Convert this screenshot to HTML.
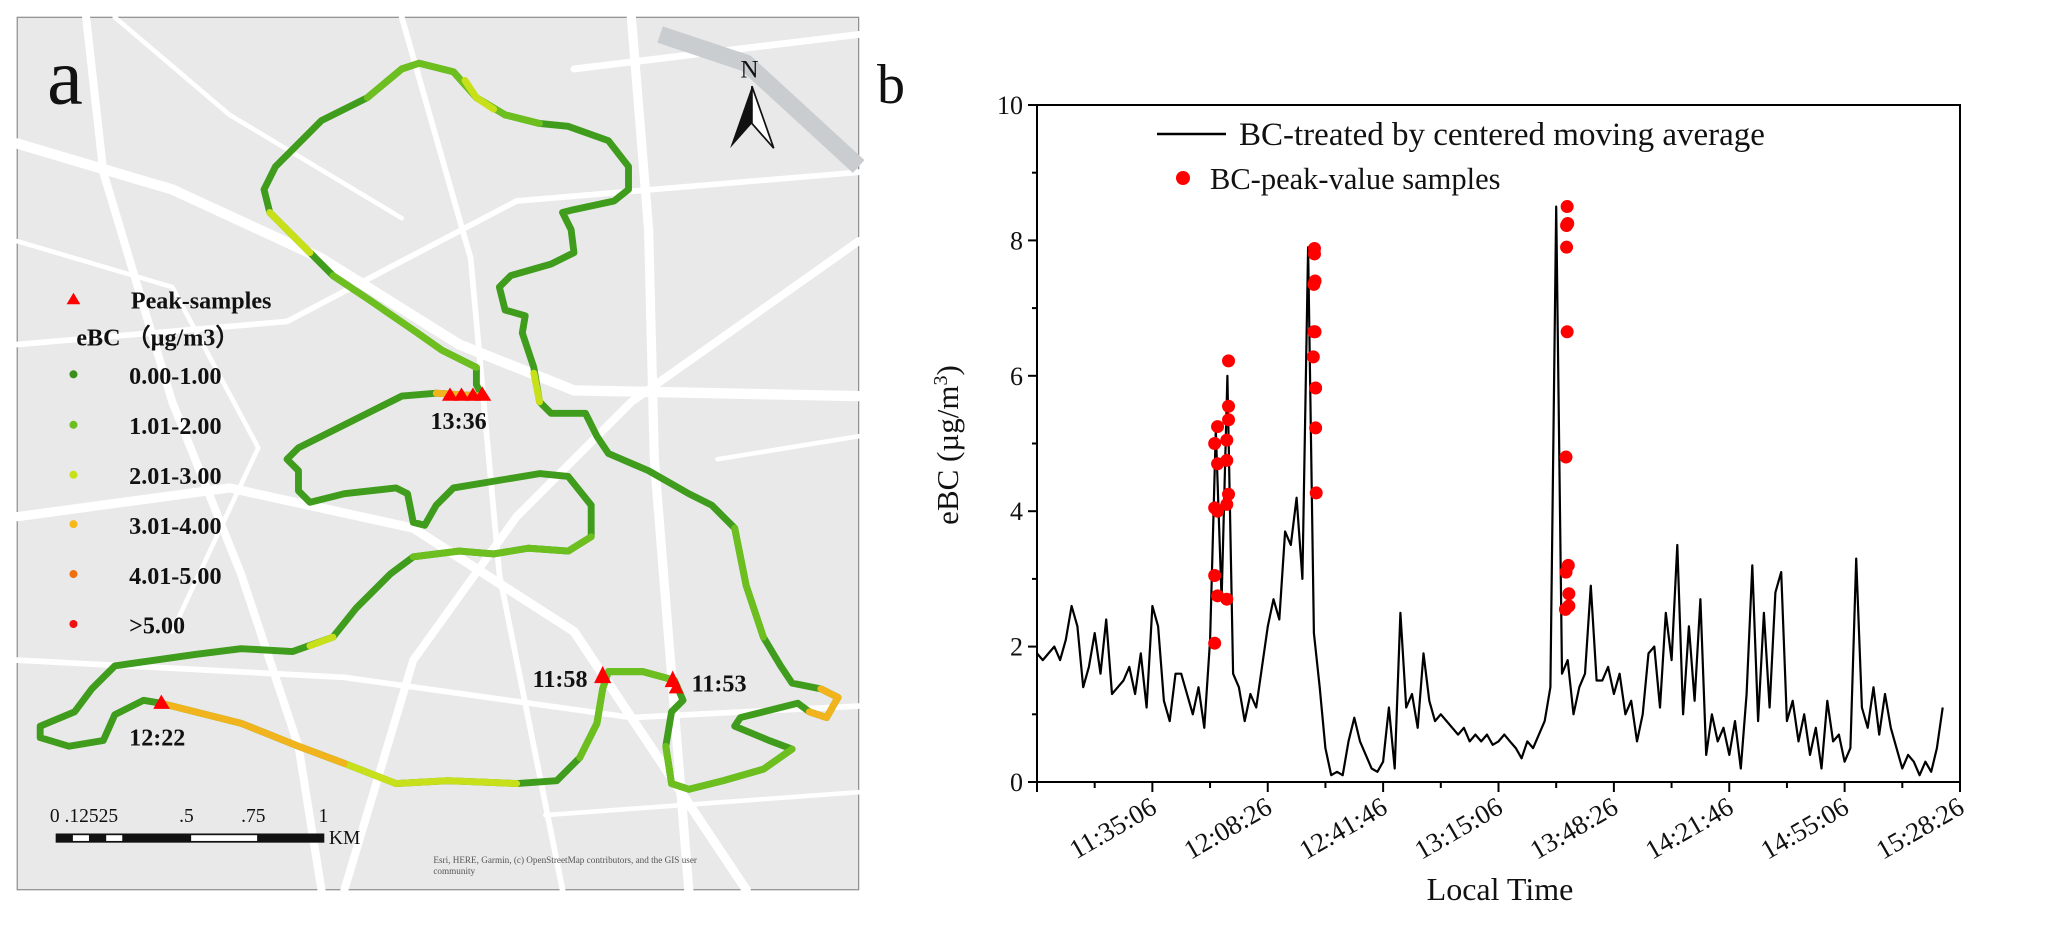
<!DOCTYPE html>
<html><head><meta charset="utf-8"><style>
html,body{margin:0;padding:0;background:#fff;}
#root{position:relative;width:2067px;height:934px;overflow:hidden;background:#fff;}
svg text{font-family:"Liberation Serif",serif;}
</style></head><body>
<div id="root">
<svg id="map" style="position:absolute;left:0;top:0" width="900" height="934" viewBox="0 0 1568 1627">
  <rect x="30" y="30" width="1466" height="1520" fill="#e9e9e9" stroke="#888" stroke-width="2"/>
  <g stroke="#fff" fill="none" stroke-linecap="round">
    <path d="M30 250 L300 330 L560 450 L800 600 L1000 680 L1496 690" stroke-width="18"/>
    <path d="M150 30 L180 300 L300 700 L420 1000 L520 1300 L560 1550" stroke-width="14"/>
    <path d="M30 900 L400 850 L720 920 L1000 1100 L1300 1550" stroke-width="16"/>
    <path d="M600 1550 L720 1150 L900 900 L1100 700 L1496 420" stroke-width="14"/>
    <path d="M1100 30 L1130 400 L1140 800 L1200 1550" stroke-width="16"/>
    <path d="M700 30 L820 450 L870 1000 L980 1550" stroke-width="10"/>
    <path d="M30 600 L500 560 L900 350 L1496 300" stroke-width="10"/>
    <path d="M30 1150 L600 1180 L1100 1250 L1496 1230" stroke-width="10"/>
    <path d="M200 30 L400 200 L700 380" stroke-width="8"/>
    <path d="M1000 120 L1496 60" stroke-width="12"/>
    <path d="M30 420 L300 500 L450 780 L300 1100" stroke-width="8"/>
    <path d="M1250 800 L1496 760" stroke-width="8"/>
    <path d="M950 1420 L1496 1380" stroke-width="8"/>
  </g>
  <path d="M1150 60 L1300 110 L1496 290" stroke="#c9cdd0" stroke-width="30" fill="none"/>
  <g fill="none" stroke-linecap="round" stroke-linejoin="round" stroke-width="12">
    <polyline stroke="#3f9c1c" points="840,690 830,670 830,640 770,610 720,575 640,520 580,480 540,440 500,400 470,370 460,330 480,290 560,210 640,170 700,120 730,110 790,125 830,170 880,200 940,215 990,220 1060,245 1095,290 1095,330 1070,350 1000,365 980,370 995,400 1000,440 960,460 890,480 870,500 880,540 915,550 910,580 930,640 940,700 960,720 1020,720 1040,760 1060,790 1130,820 1200,860 1240,880 1280,920 1300,1020 1330,1110 1360,1160 1380,1190 1430,1200 1460,1215 1440,1250 1410,1240 1390,1225 1370,1230 1330,1240 1290,1250 1280,1265 1340,1290 1380,1305 1330,1340 1260,1360 1200,1375 1170,1365 1160,1300 1170,1240 1190,1220 1175,1185 1120,1170 1060,1170 1050,1200 1040,1260 1010,1320 970,1360 900,1365 780,1360 690,1365 600,1330 520,1300 420,1260 320,1235 280,1225 250,1220 200,1245 180,1290 120,1300 70,1285 70,1265 130,1240 160,1200 200,1160 340,1140 420,1130 510,1135 580,1110 620,1060 680,1000 720,970 800,960 860,965 920,955 990,960 1030,935 1030,880 990,830 940,825 790,850 760,880 740,915 720,910 710,860 690,850 600,860 540,875 520,855 520,820 500,800 520,780 600,740 660,710 700,690 760,685 840,690"/>
    <polyline stroke="#6cbf1e" points="830,640 770,610 720,575 640,520 580,480"/>
    <polyline stroke="#6cbf1e" points="640,170 700,120 730,110 790,125 830,170 880,200 940,215"/>
    <polyline stroke="#c8e01a" points="540,440 500,400 470,370"/>
    <polyline stroke="#c8e01a" points="810,140 830,170 860,190"/>
    <polyline stroke="#6cbf1e" points="1280,920 1300,1020 1330,1110"/>
    <polyline stroke="#6cbf1e" points="1380,1305 1330,1340 1260,1360 1200,1375 1170,1365 1160,1300"/>
    <polyline stroke="#6cbf1e" points="1175,1185 1120,1170 1060,1170 1050,1200 1040,1260 1010,1320"/>
    <polyline stroke="#f2b41c" points="1430,1200 1460,1215 1440,1250 1410,1240"/>
    <polyline stroke="#c8e01a" points="900,1365 780,1360 690,1365 600,1330"/>
    <polyline stroke="#f2b41c" points="600,1330 520,1300 420,1260 320,1235 280,1225"/>
    <polyline stroke="#6cbf1e" points="720,970 800,960 860,965 920,955 990,960 1030,935"/>
    <polyline stroke="#c8e01a" points="540,1125 580,1110"/>
    <polyline stroke="#f2b41c" points="760,685 840,690"/>
    <polyline stroke="#c8e01a" points="930,650 940,700"/>
  </g>
  <g fill="#f00">
    <polygon points="770,698 784,675 798,698"/><polygon points="790,698 804,675 818,698"/><polygon points="810,698 824,675 838,698"/><polygon points="826,698 840,673 856,698"/>
    <polygon points="1035,1190 1050,1160 1065,1190"/><polygon points="1158,1197 1172,1168 1186,1197"/><polygon points="1165,1208 1178,1185 1191,1208"/>
    <polygon points="267,1235 281,1210 296,1235"/>
  </g>
  <g font-weight="bold" font-size="42" fill="#111">
    <text x="750" y="747">13:36</text><text x="928" y="1197">11:58</text><text x="1205" y="1205">11:53</text><text x="225" y="1299">12:22</text>
  </g>
  <text x="82" y="180" font-size="140" fill="#111">a</text>
  <g>
    <text x="1290" y="135" font-size="44" font-family="Liberation Sans" fill="#111">N</text>
    <polygon points="1310,150 1272,258 1310,215" fill="#111"/><polygon points="1310,150 1348,258 1310,215" fill="#fff" stroke="#111" stroke-width="3"/>
  </g>
  <g font-weight="bold" font-size="42" fill="#111">
    <polygon points="116,530 128,510 140,530" fill="#f00"/><text x="228" y="537">Peak-samples</text>
    <text x="133" y="602">eBC （µg/m3）</text>
    <circle cx="128" cy="652" r="7" fill="#3a8f1a"/><text x="225" y="669">0.00-1.00</text>
    <circle cx="128" cy="740" r="7" fill="#6cbf1e"/><text x="225" y="756">1.01-2.00</text>
    <circle cx="128" cy="827" r="7" fill="#c8e01a"/><text x="225" y="843">2.01-3.00</text>
    <circle cx="128" cy="913" r="7" fill="#f8b81a"/><text x="225" y="930">3.01-4.00</text>
    <circle cx="128" cy="1000" r="7" fill="#f07010"/><text x="225" y="1017">4.01-5.00</text>
    <circle cx="128" cy="1087" r="7" fill="#f01010"/><text x="225" y="1104">&gt;5.00</text>
  </g>
  <g font-family="Liberation Sans" font-size="34" fill="#111">
    <text x="87" y="1432">0 .12525</text><text x="312" y="1432">.5</text><text x="420" y="1432">.75</text><text x="555" y="1432">1</text>
    <rect x="97" y="1452" width="468" height="16" fill="#111"/>
    <rect x="127" y="1455" width="28" height="10" fill="#fff"/><rect x="185" y="1455" width="28" height="10" fill="#fff"/><rect x="333" y="1455" width="115" height="10" fill="#fff"/>
    <text x="573" y="1470">KM</text>
  </g>
  <text x="755" y="1503" font-family="Liberation Mono" font-size="16" fill="#555">Esri, HERE, Garmin, (c) OpenStreetMap contributors, and the GIS user</text>
  <text x="755" y="1523" font-family="Liberation Mono" font-size="16" fill="#555">community</text>
</svg>
<svg id="chart" style="position:absolute;left:0;top:0" width="2067" height="934"></svg>
</div>
<script>
const yTicks = [0, 2, 4, 6, 8, 10];
const xTickLabels = ["11:35:06","12:08:26","12:41:46","13:15:06","13:48:26","14:21:46","14:55:06","15:28:26"];
const stepSeconds = 100;
const bcValues = [1.9,1.8,1.9,2.0,1.8,2.1,2.6,2.3,1.4,1.7,2.2,1.6,2.4,1.3,1.4,1.5,1.7,1.3,1.9,1.1,2.6,2.3,1.2,0.9,1.6,1.6,1.3,1.0,1.4,0.8,2.1,5.2,2.7,6.0,1.6,1.4,0.9,1.3,1.1,1.7,2.3,2.7,2.4,3.7,3.5,4.2,3.0,7.9,2.2,1.4,0.5,0.1,0.15,0.1,0.6,0.95,0.6,0.4,0.2,0.15,0.3,1.1,0.2,2.5,1.1,1.3,0.8,1.9,1.2,0.9,1.0,0.9,0.8,0.7,0.8,0.6,0.7,0.6,0.7,0.55,0.6,0.7,0.6,0.5,0.35,0.6,0.5,0.7,0.9,1.4,8.5,1.6,1.8,1.0,1.4,1.6,2.9,1.5,1.5,1.7,1.3,1.6,1.0,1.2,0.6,1.0,1.9,2.0,1.1,2.5,1.8,3.5,1.0,2.3,1.2,2.7,0.4,1.0,0.6,0.8,0.4,0.9,0.2,1.3,3.2,0.9,2.5,1.1,2.8,3.1,0.9,1.2,0.6,1.0,0.4,0.8,0.2,1.2,0.6,0.7,0.3,0.5,3.3,1.1,0.8,1.4,0.7,1.3,0.8,0.5,0.2,0.4,0.3,0.1,0.3,0.15,0.5,1.1];
const peakTimes = [3080,3080,3080,3080,3130,3130,3130,3130,3290,3290,3290,3290,3320,3320,3320,3320, 4790,4800,4800,4810,4810,4820,4820,4830,4830,4840, 9160,9170,9170,9180,9180,9190,9200,9190,9210,9220,9220];
const peakValues = [2.05,3.05,4.05,5.0,5.25,4.7,2.75,4.0,2.7,4.1,5.05,4.75,5.55,5.35,6.22,4.25, 6.28,6.65,7.35,7.8,7.88,7.4,6.65,5.82,5.23,4.27, 2.55,3.1,4.8,7.9,8.22,8.5,8.25,6.65,3.2,2.78,2.6];

const NS='http://www.w3.org/2000/svg';
const svg=document.getElementById('chart');
const X0=1037,X1=1960,Y0=782,Y1=105,TMAX=16000,VMAX=10;
const xs=t=>X0+(t/TMAX)*(X1-X0);
const ys=v=>Y0-(v/VMAX)*(Y0-Y1);
function mk(tag,attrs,parent){const e=document.createElementNS(NS,tag);for(const k in attrs)e.setAttribute(k,attrs[k]);(parent||svg).appendChild(e);return e;}

const frame=mk('rect',{x:X0,y:Y1,width:X1-X0,height:Y0-Y1,fill:'none',stroke:'#000','stroke-width':2});



yTicks.forEach(v=>{
  const tk=mk('line',{x1:X0-9,x2:X0,y1:ys(v),y2:ys(v),stroke:'#000','stroke-width':2});
  
  
  const lb=mk('text',{x:X0-14,y:ys(v)+9,'text-anchor':'end','font-size':26,fill:'#111'});
  lb.textContent=v;
  
  
});
for(let v=1;v<VMAX;v+=2){
  const m=mk('line',{x1:X0-5,x2:X0,y1:ys(v),y2:ys(v),stroke:'#000','stroke-width':2});
  
  
}
for(let t=0;t<=TMAX;t+=1000){
  const major=t%2000===0;
  const tk=mk('line',{x1:xs(t),x2:xs(t),y1:Y0,y2:Y0+(major?10:6),stroke:'#000','stroke-width':2});
  
  
}
xTickLabels.forEach((s,i)=>{
  const x=xs((i+1)*2000);
  const lb=mk('text',{x:x+6,y:Y0+30,'text-anchor':'end','font-size':27,fill:'#111',transform:`rotate(-30 ${x+6} ${Y0+30})`});
  lb.textContent=s;
  
  
});

const pts=bcValues.map((v,i)=>xs(i*stepSeconds).toFixed(1)+','+ys(v).toFixed(1)).join(' ');
const line=mk('polyline',{points:pts,fill:'none',stroke:'#000','stroke-width':2.2,'stroke-linejoin':'round'});



peakTimes.forEach((t,i)=>{
  const c=mk('circle',{cx:xs(t),cy:ys(peakValues[i]),r:6.5,fill:'#f00'});
  
  
});

const lgLine=mk('line',{x1:1157,x2:1226,y1:134,y2:134,stroke:'#000','stroke-width':2.5});


const lgT1=mk('text',{x:1239,y:145,'font-size':33,fill:'#111'});
lgT1.textContent='BC-treated by centered moving average';


const lgDot=mk('circle',{cx:1183,cy:178,r:7,fill:'#f00'});


const lgT2=mk('text',{x:1210,y:189,'font-size':30.5,fill:'#111'});
lgT2.textContent='BC-peak-value samples';



const yt=mk('text',{x:958,y:445,'text-anchor':'middle','font-size':31,fill:'#111',transform:'rotate(-90 958 445)'});
yt.innerHTML='eBC (µg/m<tspan baseline-shift="super" font-size="20">3</tspan>)';


const xt=mk('text',{x:1500,y:900,'text-anchor':'middle','font-size':32,fill:'#111'});
xt.textContent='Local Time';


const pb=mk('text',{x:877,y:103,'font-size':56,fill:'#111'});
pb.textContent='b';


</script>
</body></html>
